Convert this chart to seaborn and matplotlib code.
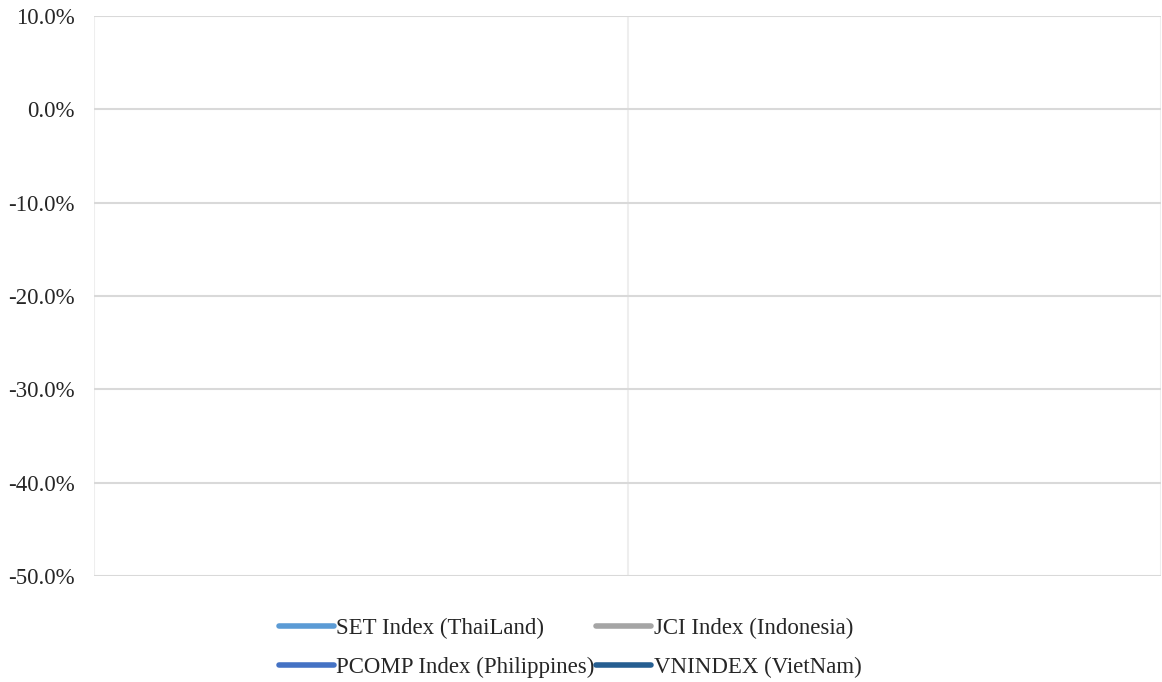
import numpy as np
import pandas as pd
import matplotlib
matplotlib.use("Agg")
import matplotlib.pyplot as plt
import seaborn as sns
from matplotlib.ticker import FuncFormatter, FixedLocator
from matplotlib.lines import Line2D

# ---- data (the reference chart shows no plotted values) ----
dates = [0, 1, 2]
series_names = ["SET Index (ThaiLand)", "JCI Index (Indonesia)",
                "PCOMP Index (Philippines)", "VNINDEX (VietNam)"]
set_values = [np.nan, np.nan, np.nan]
jci_values = [np.nan, np.nan, np.nan]
pcomp_values = [np.nan, np.nan, np.nan]
vn_values = [np.nan, np.nan, np.nan]
y_ticks = [0.10, 0.0, -0.10, -0.20, -0.30, -0.40, -0.50]
colors = ["#5B9BD5", "#A5A5A5", "#4472C4", "#255E91"]

sns.set_theme(style="white")
plt.rcParams['font.family'] = ['Liberation Serif', 'DejaVu Serif']

fig = plt.figure(figsize=(11.62, 6.82), dpi=100)
ax = fig.add_axes([94/1162, 1-576/682, (1161-94)/1162, (576-16)/682])

all_vals = [set_values, jci_values, pcomp_values, vn_values]
for name, vals, c in zip(series_names, all_vals, colors):
    sns.lineplot(x=dates, y=vals, ax=ax, color=c, linewidth=4, label=name)

ax.set_xlim(0, 2)
ax.set_ylim(-0.50, 0.10)
ax.yaxis.set_major_locator(FixedLocator(y_ticks))
ax.yaxis.set_major_formatter(FuncFormatter(lambda v, p: f"{v*100:.1f}%"))
ax.set_xticks([0, 1, 2])
ax.set_xticklabels([])
ax.tick_params(axis='x', length=0)
ax.tick_params(axis='y', length=0, labelsize=16.5, pad=14, colors='#262626')

ax.grid(axis='y', color='#d9d9d9', linewidth=1.5)
ax.grid(axis='x', color='#eeeeee', linewidth=1.5)
for s in ax.spines.values():
    s.set_visible(False)
ax.set_xlabel("")
ax.set_ylabel("")

if ax.legend_ is not None:
    ax.legend_.remove()
order = [0, 2, 1, 3]
h = [Line2D([0], [0], color=colors[i], linewidth=4, solid_capstyle='round') for i in order]
labels = [series_names[i] for i in order]
fig.legend(h, labels, loc='center', bbox_to_anchor=(570/1162, 1-648/682),
           ncol=2, frameon=False, fontsize=16.5, handlelength=2.4,
           handletextpad=0.1, columnspacing=0.1, labelspacing=0.75,
           labelcolor='#262626')

fig.savefig("out.png", dpi=100)
